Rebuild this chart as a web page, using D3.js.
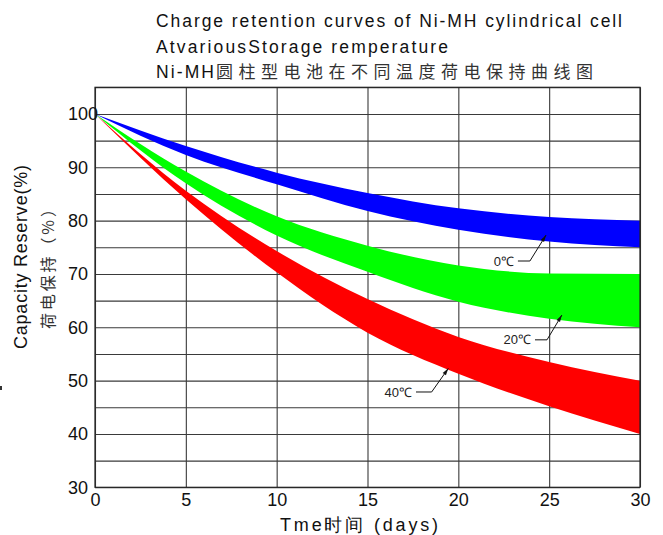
<!DOCTYPE html>
<html>
<head>
<meta charset="utf-8">
<script src="https://cdn.jsdelivr.net/npm/d3@7"></script>
<style>
  body { margin: 0; background: #fff; }
  text { font-family: "Liberation Sans", Arial, sans-serif; }
  .cjk { font-family: "Noto Sans CJK SC", sans-serif; }
</style>
</head>
<body>
<script>
// storage time in days
const days = [0, 5, 10, 15, 20, 25, 30];

// upper and lower edge of each retention band (%)
const blueHigh  = [100, 94.0, 89.0, 85.2, 82.3, 80.7, 80.0];
const blueLow   = [100, 92.3, 86.8, 81.8, 78.3, 76.1, 75.0];
const greenHigh = [100, 89.2, 80.8, 75.3, 71.6, 70.1, 70.0];
const greenLow  = [100, 87.0, 77.2, 70.4, 64.8, 61.6, 60.0];
const redHigh   = [100, 85.6, 74.3, 65.3, 58.2, 53.5, 50.0];
const redLow    = [100, 84.0, 70.3, 59.0, 51.3, 45.2, 40.0];

const seriesNames = ["0℃", "20℃", "40℃"];
const seriesColors = ["#0000ff", "#00ff00", "#ff0000"];

const xTicks = [0, 5, 10, 15, 20, 25, 30];
const yTicks = [30, 40, 50, 60, 70, 80, 90, 100];

// leader arrows in data units: start of the tail, elbow, arrow tip
const annoStartDay = [23.28, 24.22, 17.67];
const annoElbowDay = [23.94, 24.88, 18.53];
const annoElbowVal = [72.43, 57.65, 47.87];
const annoTipDay   = [24.83, 25.70, 19.45];
const annoTipVal   = [77.3, 62.3, 52.3];

const title1 = "Charge retention curves of Ni-MH cylindrical cell";
const title2 = "AtvariousStorage remperature";
const title3a = "Ni-MH";
const title3b = "圆柱型电池在不同温度荷电保持曲线图";

const W = 663, H = 535;
const margin = { top: 87.3, right: 23, bottom: 47.7, left: 95 };

const svg = d3.select("body").append("svg")
  .attr("width", W)
  .attr("height", H);

const x = d3.scaleLinear().domain([0, 30]).range([margin.left, W - margin.right]);
const y = d3.scaleLinear().domain([30, 105]).range([H - margin.bottom, margin.top]);

// grid
svg.append("g")
  .attr("transform", `translate(${margin.left},0)`)
  .call(d3.axisLeft(y).tickValues(d3.range(30, 106, 5)).tickSize(-(x(30) - x(0))).tickFormat(""))
  .call(g => g.select("path.domain").remove())
  .selectAll("line").attr("stroke", "#3a3a3a").attr("stroke-width", 1.1);

svg.append("g")
  .attr("transform", `translate(0,${y(30)})`)
  .call(d3.axisBottom(x).tickValues(xTicks).tickSize(-(y(30) - y(105))).tickFormat(""))
  .call(g => g.select("path.domain").remove())
  .selectAll("line").attr("stroke", "#3a3a3a").attr("stroke-width", 1.1);

// bands
const bands = [
  { high: blueHigh, low: blueLow },
  { high: greenHigh, low: greenLow },
  { high: redHigh, low: redLow }
].map((b, i) => ({
  name: seriesNames[i],
  color: seriesColors[i],
  values: days.map((d, j) => ({ day: d, high: b.high[j], low: b.low[j] }))
}));

const area = d3.area()
  .x(d => x(d.day))
  .y0(d => y(d.low))
  .y1(d => y(d.high))
  .curve(d3.curveMonotoneX);

svg.append("g").selectAll("path")
  .data(bands)
  .enter()
  .append("path")
  .attr("d", d => area(d.values))
  .attr("fill", d => d.color);

// frame
svg.append("rect")
  .attr("x", x(0)).attr("y", y(105))
  .attr("width", x(30) - x(0)).attr("height", y(30) - y(105))
  .attr("fill", "none").attr("stroke", "#222").attr("stroke-width", 1.2);

// tick labels
const yAxis = svg.append("g")
  .attr("transform", `translate(${margin.left},0)`)
  .call(d3.axisLeft(y).tickValues(yTicks).tickSize(0));
yAxis.select("path.domain").remove();
yAxis.selectAll("text")
  .attr("x", -27)
  .attr("text-anchor", "start")
  .attr("font-size", 18)
  .attr("font-family", "Liberation Sans, Arial, sans-serif")
  .attr("fill", "#111");

const xAxis = svg.append("g")
  .attr("transform", `translate(0,${y(30)})`)
  .call(d3.axisBottom(x).tickValues(xTicks).tickSize(0).tickPadding(6));
xAxis.select("path.domain").remove();
xAxis.selectAll("text")
  .attr("font-size", 18)
  .attr("font-family", "Liberation Sans, Arial, sans-serif")
  .attr("fill", "#111");

// titles
svg.append("text")
  .attr("x", 156).attr("y", 27)
  .attr("font-size", 17.5).attr("fill", "#111")
  .attr("textLength", 466).attr("lengthAdjust", "spacing")
  .text(title1);

svg.append("text")
  .attr("x", 156).attr("y", 52.5)
  .attr("font-size", 17.5).attr("fill", "#111")
  .attr("textLength", 292).attr("lengthAdjust", "spacing")
  .text(title2);

svg.append("text")
  .attr("x", 156).attr("y", 78)
  .attr("font-size", 17.5).attr("fill", "#111")
  .attr("textLength", 58).attr("lengthAdjust", "spacing")
  .text(title3a);

svg.append("text")
  .attr("class", "cjk")
  .attr("x", 216).attr("y", 78)
  .attr("font-size", 17).attr("fill", "#333")
  .attr("textLength", 377).attr("lengthAdjust", "spacing")
  .text(title3b);

// axis titles
svg.append("text")
  .attr("transform", "translate(27,257) rotate(-90)")
  .attr("text-anchor", "middle")
  .attr("font-size", 18)
  .attr("fill", "#111")
  .attr("textLength", 184)
  .attr("lengthAdjust", "spacing")
  .text("Capacity Reserve(%)");

svg.append("text")
  .attr("class", "cjk")
  .attr("transform", "translate(54,265) rotate(-90)")
  .attr("text-anchor", "middle")
  .attr("font-size", 16)
  .attr("fill", "#333")
  .attr("textLength", 128)
  .attr("lengthAdjust", "spacing")
  .text("荷电保持（%）");

svg.append("text")
  .attr("x", 359)
  .attr("y", 531)
  .attr("text-anchor", "middle")
  .attr("font-size", 18)
  .attr("fill", "#111")
  .attr("textLength", 158)
  .attr("lengthAdjust", "spacing")
  .text("Tme时间  (days)");

// stray mark at the left edge
svg.append("rect")
  .attr("x", 0).attr("y", 386).attr("width", 2).attr("height", 4).attr("fill", "#333");

// annotations
const annos = seriesNames.map((name, i) => ({
  name,
  start: [x(annoStartDay[i]), y(annoElbowVal[i])],
  elbow: [x(annoElbowDay[i]), y(annoElbowVal[i])],
  tip: [x(annoTipDay[i]), y(annoTipVal[i])]
}));

const annoG = svg.append("g").selectAll("g")
  .data(annos)
  .enter()
  .append("g");

annoG.append("polyline")
  .attr("points", d => [d.start, d.elbow, d.tip].map(p => p.join(",")).join(" "))
  .attr("fill", "none")
  .attr("stroke", "#111")
  .attr("stroke-width", 1);

annoG.append("path")
  .attr("d", d => {
    const dx = d.tip[0] - d.elbow[0], dy = d.tip[1] - d.elbow[1];
    const len = Math.hypot(dx, dy), ux = dx / len, uy = dy / len;
    const bx = d.tip[0] - ux * 7, by = d.tip[1] - uy * 7;
    return `M${d.tip[0]},${d.tip[1]}L${bx - uy * 2},${by + ux * 2}L${bx + uy * 2},${by - ux * 2}Z`;
  })
  .attr("fill", "#111");

annoG.append("text")
  .attr("x", d => d.start[0] - 4)
  .attr("y", d => d.start[1])
  .attr("dy", "0.35em")
  .attr("text-anchor", "end")
  .attr("font-size", 13)
  .attr("fill", "#222")
  .text(d => d.name);
</script>
</body>
</html>
